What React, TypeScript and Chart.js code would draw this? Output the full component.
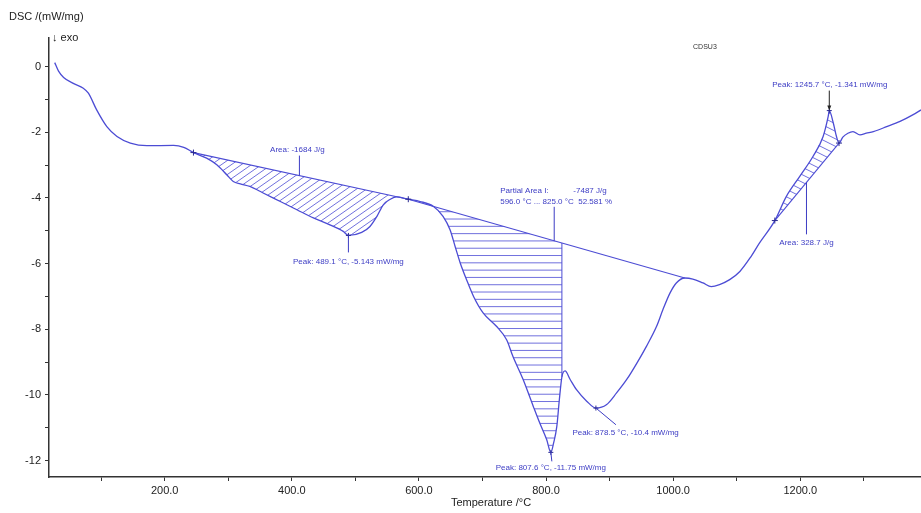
import React, { useEffect, useRef } from 'react';
import { Chart, registerables } from 'chart.js';
Chart.register(...registerables);

// ---- data ----
const temps = [27,33,41,57,72,80,93,109,125,146,172,214,230,245.3,266,282,298,308,319,334,355,382,408,434,460,481,489.1,510,523,534,544,555,565,583.3,602,623,638,649,657,665,675,686,701,722,738,748,764,780,790,801,807.6,812,817,821,825,830,838,848,864,878.5,895,911,927,943,958,974,984,995,1005,1018.4,1031,1047,1060,1073,1089,1105,1121,1136,1160,1178,1199,1220,1236,1244,1245.7,1252,1257,1261,1267,1275,1283,1294,1304,1315,1336,1357,1377,1390];
const dsc = [0.12,-0.14,-0.33,-0.52,-0.66,-0.81,-1.32,-1.83,-2.13,-2.33,-2.41,-2.40,-2.46,-2.62,-2.79,-2.99,-3.30,-3.50,-3.57,-3.65,-3.85,-4.11,-4.36,-4.61,-4.82,-5.02,-5.143,-5.05,-4.87,-4.56,-4.21,-4.04,-3.97,-4.04,-4.11,-4.26,-4.56,-4.97,-5.48,-5.98,-6.49,-7.00,-7.50,-7.91,-8.32,-8.83,-9.53,-10.35,-10.85,-11.36,-11.75,-11.46,-10.96,-10.14,-9.45,-9.27,-9.53,-9.84,-10.19,-10.40,-10.30,-9.94,-9.53,-9.03,-8.52,-7.91,-7.40,-6.90,-6.59,-6.44,-6.47,-6.59,-6.70,-6.64,-6.49,-6.24,-5.83,-5.37,-4.69,-3.96,-3.35,-2.74,-2.13,-1.52,-1.341,-1.72,-2.13,-2.33,-2.15,-2.03,-1.98,-2.08,-2.03,-1.98,-1.83,-1.67,-1.47,-1.32];

const baseAT = [245.3, 583.3];
const baseAV = [-2.62, -4.04];
const baseBT = [583.3, 1018.4];
const baseBV = [-4.04, -6.44];
const baseCT = [1160, 1261];
const baseCV = [-4.69, -2.33];

const partialRange = [596.0, 825.0];

const peakTemps = [489.1, 807.6, 878.5, 1245.7];
const peakVals = [-5.143, -11.75, -10.4, -1.341];
const peakLabels = [
  'Peak: 489.1 °C, -5.143 mW/mg',
  'Peak: 807.6 °C, -11.75 mW/mg',
  'Peak: 878.5 °C, -10.4 mW/mg',
  'Peak: 1245.7 °C, -1.341 mW/mg',
];
const areaLabels = ['Area: -1684 J/g', 'Area: 328.7 J/g'];
const areaPointerTemps = [412, 1209.8];
const partialPointerTemp = 812.9;
const partialLine1 = ['Partial Area I:', '-7487 J/g'];
const partialLine2 = '596.0 °C ... 825.0 °C  52.581 %';
const sampleName = 'CDSU3';
const sampleNamePos = [1050, 0.6];

const xTickValues = [100,200,300,400,500,600,700,800,900,1000,1100,1200,1300];
const yTickValues = [-12,-11,-10,-9,-8,-7,-6,-5,-4,-3,-2,-1,0];

// ---- styles ----
const FONT = "'Liberation Sans', Arial, 'DejaVu Sans', sans-serif";
const LINE = '#4c4cd4';
const TEXTBLUE = '#3c3cc4';
const HATCH = 'rgba(76,76,212,0.8)';

function interp(ts: number[], vs: number[], t: number) {
  if (t <= ts[0]) return vs[0];
  for (let i = 1; i < ts.length; i++) {
    if (t <= ts[i]) {
      const f = (t - ts[i - 1]) / (ts[i] - ts[i - 1]);
      return vs[i - 1] + f * (vs[i] - vs[i - 1]);
    }
  }
  return vs[vs.length - 1];
}

function areaPolygon(t0: number, t1: number, bt: number[], bv: number[]) {
  const pts: number[][] = [[t0, interp(temps, dsc, t0)]];
  temps.forEach((t, i) => { if (t > t0 && t < t1) pts.push([t, dsc[i]]); });
  pts.push([t1, interp(temps, dsc, t1)]);
  pts.push([t1, interp(bt, bv, t1)]);
  pts.push([t0, interp(bt, bv, t0)]);
  return pts;
}

function hatch(ctx: CanvasRenderingContext2D, poly: number[][], kind: string, spacing: number, slope: number) {
  let bx0 = Infinity, bx1 = -Infinity, by0 = Infinity, by1 = -Infinity;
  poly.forEach(([a, b]) => { bx0 = Math.min(bx0, a); bx1 = Math.max(bx1, a); by0 = Math.min(by0, b); by1 = Math.max(by1, b); });
  ctx.save();
  ctx.beginPath();
  poly.forEach(([a, b], i) => (i ? ctx.lineTo(a, b) : ctx.moveTo(a, b)));
  ctx.closePath();
  ctx.clip();
  ctx.beginPath();
  ctx.strokeStyle = HATCH;
  ctx.lineWidth = 1;
  if (kind === 'h') {
    for (let yy = by0 + spacing * 0.5; yy <= by1; yy += spacing) {
      ctx.moveTo(bx0 - 2, yy); ctx.lineTo(bx1 + 2, yy);
    }
  } else {
    const sign = kind === '/' ? -1 : 1;
    const w = bx1 - bx0;
    const span = slope * w;
    for (let c = by0 - span - spacing; c <= by1 + span + spacing; c += spacing) {
      ctx.moveTo(bx0, c); ctx.lineTo(bx1, c + sign * slope * w);
    }
  }
  ctx.stroke();
  ctx.restore();
}

function text(ctx: CanvasRenderingContext2D, s: string, x: number, y: number, align: CanvasTextAlign = 'left', color = TEXTBLUE, size = 8) {
  ctx.font = `${size}px ${FONT}`;
  ctx.fillStyle = color;
  ctx.textAlign = align;
  ctx.textBaseline = 'middle';
  ctx.fillText(s, x, y);
}

function seg(ctx: CanvasRenderingContext2D, x0: number, y0: number, x1: number, y1: number, color = TEXTBLUE, w = 1) {
  ctx.beginPath();
  ctx.strokeStyle = color;
  ctx.lineWidth = w;
  ctx.moveTo(x0, y0);
  ctx.lineTo(x1, y1);
  ctx.stroke();
}

function cross(ctx: CanvasRenderingContext2D, x: number, y: number, r = 3) {
  seg(ctx, x - r, y, x + r, y, '#2a2a90');
  seg(ctx, x, y - r, x, y + r, '#2a2a90');
}

const dscPlugin = {
  id: 'dscPlugin',
  beforeDatasetsDraw(chart: any) {
    const { ctx, scales: { x, y } } = chart;
    const toPx = (p: number[]) => [x.getPixelForValue(p[0]), y.getPixelForValue(p[1])];
    const a1 = areaPolygon(baseAT[0], baseAT[1], baseAT, baseAV).map(toPx);
    hatch(ctx, a1, '/', 7, 0.7);
    const a2 = areaPolygon(partialRange[0], partialRange[1], baseBT, baseBV).map(toPx);
    hatch(ctx, a2, 'h', 7.3, 0);
    const a3 = areaPolygon(baseCT[0], baseCT[1], baseCT, baseCV).map(toPx);
    hatch(ctx, a3, '\\', 7.5, 0.5);
    // right border of partial area
    const xr = x.getPixelForValue(partialRange[1]);
    seg(ctx, xr, y.getPixelForValue(interp(temps, dsc, partialRange[1])), xr, y.getPixelForValue(interp(baseBT, baseBV, partialRange[1])), LINE, 1);
  },
  afterDatasetsDraw(chart: any) {
    const { ctx, scales: { x, y } } = chart;
    const X = (t: number) => x.getPixelForValue(t);
    const Y = (v: number) => y.getPixelForValue(v);
    ctx.save();
    // markers
    cross(ctx, X(baseAT[0]), Y(baseAV[0]));
    cross(ctx, X(baseAT[1]), Y(baseAV[1]));
    cross(ctx, X(baseCT[0]), Y(baseCV[0]));
    cross(ctx, X(baseCT[1]), Y(baseCV[1]));
    peakTemps.forEach((t, i) => cross(ctx, X(t), Y(peakVals[i]), 2.5));

    // peak 1
    let px = X(peakTemps[0]), py = Y(peakVals[0]);
    seg(ctx, px, py, px, py + 17);
    text(ctx, peakLabels[0], px, py + 26.5, 'center');
    // peak 2
    px = X(peakTemps[1]); py = Y(peakVals[1]);
    seg(ctx, px, py, px + 1, py + 9);
    text(ctx, peakLabels[1], px, py + 15.5, 'center');
    // peak 3
    px = X(peakTemps[2]); py = Y(peakVals[2]);
    seg(ctx, px, py, px + 20, py + 16.7);
    text(ctx, peakLabels[2], px - 23.5, py + 24.4, 'left');
    // peak 4 with arrow
    px = X(peakTemps[3]); py = Y(peakVals[3]);
    seg(ctx, px, py - 20, px, py - 3, '#222', 1);
    ctx.beginPath();
    ctx.fillStyle = '#222';
    ctx.moveTo(px, py); ctx.lineTo(px - 2, py - 5); ctx.lineTo(px + 2, py - 5); ctx.closePath(); ctx.fill();
    text(ctx, peakLabels[3], px + 0.5, py - 26, 'center');

    // area 1 label
    let ax = X(areaPointerTemps[0]), ay = Y(interp(baseAT, baseAV, areaPointerTemps[0]));
    seg(ctx, ax, ay, ax, ay - 20);
    text(ctx, areaLabels[0], ax - 2, ay - 26, 'center');
    // area 3 label
    ax = X(areaPointerTemps[1]); ay = Y(interp(baseCT, baseCV, areaPointerTemps[1]));
    seg(ctx, ax, ay, ax, ay + 52);
    text(ctx, areaLabels[1], ax, ay + 60, 'center');
    // partial area label
    ax = X(partialPointerTemp); ay = Y(interp(baseBT, baseBV, partialPointerTemp));
    seg(ctx, ax, ay, ax, ay - 34);
    text(ctx, partialLine1[0], ax - 54, ay - 50.3, 'left');
    text(ctx, partialLine1[1], ax + 52.5, ay - 50.3, 'right');
    text(ctx, partialLine2, ax - 54, ay - 38.7, 'left');

    // sample name
    text(ctx, sampleName, X(sampleNamePos[0]), Y(sampleNamePos[1]), 'center', '#333', 7);
    ctx.restore();
  },
  afterDraw(chart: any) {
    const { ctx, chartArea } = chart;
    ctx.save();
    text(ctx, 'DSC /(mW/mg)', 9, 17, 'left', '#222', 11);
    text(ctx, '↓ exo', 52, 38, 'left', '#222', 11);
    text(ctx, 'Temperature /°C', (chartArea.left + chartArea.right) / 2 + 6, 503, 'center', '#222', 11);
    ctx.restore();
  },
};

export default function App() {
  const ref = useRef<HTMLCanvasElement>(null);
  useEffect(() => {
    const chart = new Chart(ref.current as HTMLCanvasElement, {
      type: 'line',
      data: {
        datasets: [
          {
            data: temps.map((t, i) => ({ x: t, y: dsc[i] })),
            borderColor: LINE,
            borderWidth: 1.3,
            pointRadius: 0,
            cubicInterpolationMode: 'monotone',
            fill: false,
          },
          { data: baseAT.map((t, i) => ({ x: t, y: baseAV[i] })), borderColor: LINE, borderWidth: 1.1, pointRadius: 0, fill: false },
          { data: baseBT.map((t, i) => ({ x: t, y: baseBV[i] })), borderColor: LINE, borderWidth: 1.1, pointRadius: 0, fill: false },
          { data: baseCT.map((t, i) => ({ x: t, y: baseCV[i] })), borderColor: LINE, borderWidth: 1.1, pointRadius: 0, fill: false },
        ],
      },
      options: {
        responsive: false,
        animation: false,
        layout: { padding: { top: 38, right: 0, bottom: 0, left: 0 } },
        plugins: { legend: { display: false }, tooltip: { enabled: false } },
        scales: {
          x: {
            type: 'linear',
            min: 18,
            max: 1390,
            afterBuildTicks: (s: any) => { s.ticks = xTickValues.map((v) => ({ value: v })); },
            afterFit: (s: any) => { s.height = 36; s.paddingLeft = 0; s.paddingRight = 0; },
            ticks: {
              autoSkip: false,
              maxRotation: 0,
              padding: 3,
              color: '#222',
              font: { size: 11, family: FONT },
              callback: (v: any) => (Number(v) % 200 === 0 ? Number(v).toFixed(1) : ''),
            },
            grid: { drawOnChartArea: false, drawTicks: true, tickLength: 4, color: '#333' },
            border: { display: true, color: '#333', width: 1.5 },
          },
          y: {
            min: -12.5,
            max: 0.87,
            afterBuildTicks: (s: any) => { s.ticks = yTickValues.map((v) => ({ value: v })); },
            afterFit: (s: any) => { s.width = 49; },
            ticks: {
              autoSkip: false,
              padding: 4,
              color: '#222',
              font: { size: 11, family: FONT },
              callback: (v: any) => (Number(v) % 2 === 0 ? String(v) : ''),
            },
            grid: { drawOnChartArea: false, drawTicks: true, tickLength: 4, color: '#333' },
            border: { display: true, color: '#333', width: 1.5 },
          },
        },
      },
      plugins: [dscPlugin],
    } as any);
    return () => chart.destroy();
  }, []);
  return (
    <div style={{ position: 'fixed', left: 0, top: 0, width: 921, height: 513, background: '#fff' }}>
      <canvas ref={ref} width={921} height={513} style={{ display: 'block' }} />
    </div>
  );
}
